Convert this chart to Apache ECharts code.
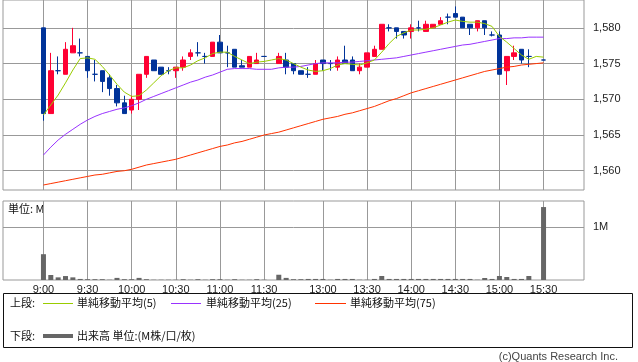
<!DOCTYPE html>
<html><head><meta charset="utf-8">
<script src="https://cdn.jsdelivr.net/npm/echarts@6/dist/echarts.min.js"></script>
<style>html,body{margin:0;padding:0;background:#fff;}#c{width:638px;height:362px;}</style>
</head><body><div id="c"></div>
<script>
const categories = ['8:35','8:40','8:45','8:50','8:55',
'9:00','9:05','9:10','9:15','9:20','9:25','9:30','9:35','9:40','9:45','9:50','9:55',
'10:00','10:05','10:10','10:15','10:20','10:25','10:30','10:35','10:40','10:45','10:50','10:55',
'11:00','11:05','11:10','11:15','11:20','11:25','11:30',
'12:25',
'12:30','12:35','12:40','12:45','12:50','12:55',
'13:00','13:05','13:10','13:15','13:20','13:25','13:30','13:35','13:40','13:45','13:50','13:55',
'14:00','14:05','14:10','14:15','14:20','14:25','14:30','14:35','14:40','14:45','14:50','14:55',
'15:00','15:05','15:10','15:15','15:20','15:25','15:30',
'15:35','15:40','15:45','15:50','15:55'];
const tickLabels = ['9:00','9:30','10:00','10:30','11:00','11:30','13:00','13:30','14:00','14:30','15:00','15:30'];
const priceTicks = [1560,1565,1570,1575,1580];
const volumeTicks = [1];

const opens = [null,null,null,null,null,
1580,1568,1574,1573.5,1576.5,1576.5,1576,1573.5,1574,1573,1571.5,1569.5,
1568.5,1570,1573.5,1575.5,1574.5,1574,1574,1574.5,1576,1576.5,1576,1576,
1578,1576.5,1577,1574.7,1574.5,1575,1576,
null,
1575,1575.5,1575,1574,1573.5,1573.5,
1575.5,1575,1574.5,1575.5,1575.5,1574,1574.5,1576,1577,1580,1580,1579.5,
1579.5,1580,1579.5,1580,1580.5,1581.5,1582,1581.5,1580.5,1580,1581,1579,
1579,1574,1576,1577,1576,null,1575.5,
null,null,null,null,null];
const highs = [null,null,null,null,null,
1580,1576.5,1576,1578,1580,1578.5,1576,1575.5,1574,1573.5,1572,1570.5,
1570.5,1573.5,1576,1575.5,1574.5,1574.5,1574.5,1576,1577,1578,1576.5,1578,
1579,1577.5,1577,1575.5,1576,1576.5,1576,
null,
1576.5,1576.5,1575,1574,1574.5,1575.5,
1575.5,1575.5,1576,1577.5,1576,1575,1576.5,1577.5,1580.5,1580.5,1580,1579.5,
1580.5,1581,1581,1580.5,1581.5,1582,1583,1581.5,1580.5,1581,1581,1579.5,
1579.5,1576,1577.5,1577,1577,null,1575.5,
null,null,null,null,null];
const lows = [null,null,null,null,null,
1567,1568,1573.5,1573.5,1576.5,1576,1573,1572.5,1571,1570.5,1569,1568,
1568,1568.5,1573,1574,1573.5,1573.5,1573,1574,1575.5,1576,1575,1576,
1576.5,1574.5,1574.5,1574.5,1574.5,1575,1576,
null,
1575,1573.5,1573.5,1573.5,1573,1573.5,
1574,1574,1574,1575,1574,1573.5,1574.5,1576,1577,1579.5,1578.5,1578.5,
1578.5,1579.5,1579.5,1580,1580.5,1580.5,1581.5,1580,1579,1579.5,1579,1578.8,
1573.5,1572,1575.5,1575,1574.5,null,1575.5,
null,null,null,null,null];
const closes = [null,null,null,null,null,
1568,1574,1574,1577,1577.5,1576.5,1574,1573.5,1572.5,1571.5,1569.5,1568,
1570,1573.5,1576,1574,1573.5,1574,1574.5,1575.5,1576.5,1576.5,1576,1578,
1576.5,1576.5,1574.5,1574.5,1576,1575.5,1576,
null,
1576,1574.5,1574,1573.5,1573.5,1575,
1575,1575,1575.5,1575,1574,1574.5,1576.5,1577,1580.5,1580,1579.5,1579,
1580,1580,1580.5,1580.5,1581,1581.5,1581.5,1580,1580,1581,1580,1579,
1573.5,1576,1576.5,1575.5,1576,null,1575.5,
null,null,null,null,null];
const sma5 = [null,null,null,null,null,
1567.8,1569.2,1570.6,1572.3,1574.1,1575.7,1575.8,1575.6,1574.6,1573.4,1572.1,1571.0,
1570.4,1570.5,1571.3,1572.3,1573.3,1574.0,1574.4,1574.4,1574.8,1575.4,1575.8,1576.4,
1576.6,1576.6,1576.0,1575.5,1575.0,1575.2,1575.3,
1575.5,
1575.7,1575.5,1575.0,1574.5,1574.1,1573.9,
1574.0,1574.3,1574.8,1575.0,1574.9,1574.8,1575.1,1575.5,1576.6,1577.8,1578.8,1579.3,
1579.7,1579.7,1579.8,1580.0,1580.4,1580.8,1581.1,1580.9,1580.8,1580.8,1580.6,1580.2,
1578.8,1578.0,1577.1,1576.2,1575.6,1576.0,1575.9,
null,null,null,null,null];
const sma25 = [null,null,null,null,null,
1562.2,1563.3,1564.3,1565.1,1565.8,1566.5,1567.1,1567.6,1568.0,1568.3,1568.6,1568.8,
1569.1,1569.5,1570.0,1570.4,1570.8,1571.2,1571.6,1572.0,1572.4,1572.7,1573.1,1573.4,
1573.8,1574.2,1574.3,1574.3,1574.3,1574.2,1574.2,
1574.2,
1574.4,1574.5,1574.5,1574.6,1574.8,1575.0,
1575.1,1575.1,1575.1,1575.2,1575.2,1575.3,1575.4,1575.5,1575.6,1575.7,1575.8,1576.0,
1576.2,1576.4,1576.6,1576.8,1577.0,1577.2,1577.4,1577.6,1577.7,1577.9,1578.1,1578.3,
1578.5,1578.5,1578.6,1578.6,1578.7,1578.7,1578.7,
null,null,null,null,null];
const sma75 = [null,null,null,null,null,
1558.0,1558.2,1558.4,1558.6,1558.8,1559.0,1559.2,1559.4,1559.5,1559.7,1559.9,1560.0,
1560.2,1560.5,1560.8,1561.0,1561.2,1561.4,1561.6,1561.9,1562.2,1562.5,1562.8,1563.1,
1563.4,1563.6,1563.9,1564.1,1564.4,1564.7,1565.0,
1565.2,
1565.4,1565.7,1566.0,1566.3,1566.6,1566.9,
1567.2,1567.4,1567.6,1567.9,1568.1,1568.4,1568.7,1569.0,1569.4,1569.8,1570.1,1570.5,
1570.9,1571.2,1571.5,1571.8,1572.1,1572.4,1572.7,1573.0,1573.3,1573.6,1573.9,1574.1,
1574.3,1574.5,1574.6,1574.8,1574.9,1575.0,1575.1,
null,null,null,null,null];
const volumes = [null,null,null,null,null,
0.49,0.095,0.05,0.075,0.05,0.02,0.015,0.015,0.015,0.005,0.04,0.015,
0.015,0.04,0.015,0.005,0.005,0.005,0.005,0.015,0.005,0.015,0.005,0.015,
0.015,0.005,0.015,0.005,0.005,0.015,0.005,
null,
0.1,0.04,0.015,0.015,0.02,0.02,
0.02,0.005,0.02,0.02,0.02,0.005,0.005,0.02,0.076,0.02,0.02,0.02,
0.02,0.02,0.02,0.02,0.02,0.02,0.02,0.02,0.02,0.005,0.038,0.02,
0.076,0.057,0.02,0.02,0.076,null,1.385,
null,null,null,null,null];

const RED = '#ff0033', BLUE = '#003399', GRID = '#999999';
const candleData = categories.map((c, i) => opens[i] == null ? '-' : [opens[i], closes[i], lows[i], highs[i]]);
const vLines = tickLabels.map(t => ({ xAxis: categories.indexOf(t) }));
const numFont = 'Liberation Sans, Arial, sans-serif';
const jpFont = '"Noto Sans CJK JP", sans-serif';

const gridLineStyle = { color: GRID, width: 1, type: 'solid' };
const chart = echarts.init(document.getElementById('c'), null, { renderer: 'canvas' });
chart.setOption({
  animation: false,
  backgroundColor: '#fff',
  grid: [
    { left: 3, right: 54, top: 0, height: 190, show: true, borderColor: GRID, borderWidth: 1 },
    { left: 3, right: 54, top: 201, height: 79, show: true, borderColor: GRID, borderWidth: 1 }
  ],
  xAxis: [
    { type: 'category', gridIndex: 0, data: categories, boundaryGap: true,
      axisLine: { show: false }, axisTick: { show: false }, axisLabel: { show: false }, splitLine: { show: false } },
    { type: 'category', gridIndex: 1, data: categories, boundaryGap: true,
      axisLine: { show: false }, axisTick: { show: false }, splitLine: { show: false },
      axisLabel: { interval: (i, v) => tickLabels.includes(v), color: '#222', fontSize: 11, fontFamily: numFont, margin: 4 } }
  ],
  yAxis: [
    { type: 'value', gridIndex: 0, min: 1557.3, max: 1583.9, scale: true,
      axisLine: { show: false }, axisTick: { show: false }, axisLabel: { show: false }, splitLine: { show: false } },
    { type: 'value', gridIndex: 1, min: 0, max: 1.5,
      axisLine: { show: false }, axisTick: { show: false }, axisLabel: { show: false }, splitLine: { show: false } }
  ],
  series: [
    { type: 'line', xAxisIndex: 0, yAxisIndex: 0, data: [], silent: true,
      markLine: { silent: true, symbol: 'none', z: 1, animation: false, lineStyle: gridLineStyle,
        label: { show: false },
        data: vLines.concat(priceTicks.map(p => ({ yAxis: p,
          label: { show: true, position: 'end', distance: 9, formatter: p.toLocaleString('en-US'),
                   color: '#222', fontSize: 11, fontFamily: numFont } }))) } },
    { type: 'line', xAxisIndex: 1, yAxisIndex: 1, data: [], silent: true,
      markLine: { silent: true, symbol: 'none', z: 1, animation: false, lineStyle: gridLineStyle,
        label: { show: false },
        data: vLines.concat(volumeTicks.map(v => ({ yAxis: v,
          label: { show: true, position: 'end', distance: 9, formatter: v + 'M',
                   color: '#222', fontSize: 11, fontFamily: numFont } }))) } },
    { name: 'price', type: 'candlestick', xAxisIndex: 0, yAxisIndex: 0, z: 3, barWidth: 5,
      data: candleData,
      itemStyle: { color: RED, color0: BLUE, borderColor: RED, borderColor0: BLUE, borderColorDoji: BLUE, borderWidth: 1 } },
    { name: '単純移動平均(75)', type: 'line', xAxisIndex: 0, yAxisIndex: 0, z: 4, data: sma75, showSymbol: false, connectNulls: true,
      lineStyle: { color: '#ff3300', width: 1 }, itemStyle: { color: '#ff3300' } },
    { name: '単純移動平均(25)', type: 'line', xAxisIndex: 0, yAxisIndex: 0, z: 4, data: sma25, showSymbol: false, connectNulls: true,
      lineStyle: { color: '#9933ff', width: 1 }, itemStyle: { color: '#9933ff' } },
    { name: '単純移動平均(5)', type: 'line', xAxisIndex: 0, yAxisIndex: 0, z: 5, data: sma5, showSymbol: false, connectNulls: true,
      lineStyle: { color: '#99cc00', width: 1 }, itemStyle: { color: '#99cc00' } },
    { name: '出来高', type: 'bar', xAxisIndex: 1, yAxisIndex: 1, z: 3, barWidth: 5, data: volumes,
      itemStyle: { color: '#666666' } }
  ],
  graphic: [
    { type: 'text', left: 8, top: 203, style: { text: '単位: M', fill: '#111', font: '11px ' + jpFont } },
    { type: 'rect', shape: { x: 3.5, y: 293.5, width: 629, height: 54 }, style: { fill: '#fff', stroke: '#111', lineWidth: 1 } },
    { type: 'text', x: 10, y: 303, style: { text: '上段:', fill: '#111', font: '11px ' + jpFont, textVerticalAlign: 'middle' } },
    { type: 'line', shape: { x1: 43, y1: 303.5, x2: 73, y2: 303.5 }, style: { stroke: '#99cc00', lineWidth: 1 } },
    { type: 'text', x: 77, y: 303, style: { text: '単純移動平均(5)', fill: '#111', font: '11px ' + jpFont, textVerticalAlign: 'middle' } },
    { type: 'line', shape: { x1: 171, y1: 303.5, x2: 201, y2: 303.5 }, style: { stroke: '#9933ff', lineWidth: 1 } },
    { type: 'text', x: 206, y: 303, style: { text: '単純移動平均(25)', fill: '#111', font: '11px ' + jpFont, textVerticalAlign: 'middle' } },
    { type: 'line', shape: { x1: 315, y1: 303.5, x2: 346, y2: 303.5 }, style: { stroke: '#ff3300', lineWidth: 1 } },
    { type: 'text', x: 350, y: 303, style: { text: '単純移動平均(75)', fill: '#111', font: '11px ' + jpFont, textVerticalAlign: 'middle' } },
    { type: 'text', x: 10, y: 336, style: { text: '下段:', fill: '#111', font: '11px ' + jpFont, textVerticalAlign: 'middle' } },
    { type: 'line', shape: { x1: 43, y1: 336, x2: 73, y2: 336 }, style: { stroke: '#666666', lineWidth: 4 } },
    { type: 'text', x: 77, y: 336, style: { text: '出来高 単位:(M株/口/枚)', fill: '#111', font: '11px ' + jpFont, textVerticalAlign: 'middle' } },
    { type: 'text', x: 618, y: 357, style: { text: '(c)Quants Research Inc.', fill: '#444', font: '11px ' + numFont, textAlign: 'right', textVerticalAlign: 'middle' } }
  ]
});
</script></body></html>
